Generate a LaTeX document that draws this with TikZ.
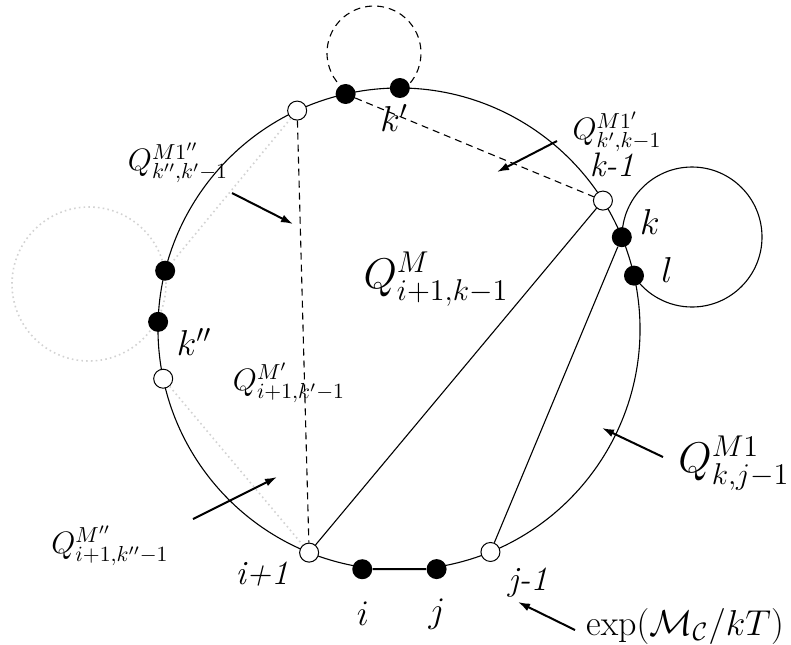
\RequirePackage{fix-cm}
\documentclass[tikz,border=0pt]{standalone}
\usepackage{amsmath}
\usetikzlibrary{arrows.meta,calc}
\begin{document}
\begin{tikzpicture}[x=0.5pt,y=0.5pt,
  opn/.style={circle,draw,fill=white,inner sep=0pt,minimum size=9.5pt,line width=0.5pt},
  fld/.style={circle,fill=black,inner sep=0pt,minimum size=10pt},
  ring/.style={line width=0.55pt},
  chord/.style={line width=0.55pt},
  dchord/.style={line width=0.55pt,dash pattern=on 3.5pt off 2.5pt},
  dotline/.style={gray!35,line width=0.8pt,dash pattern=on 0.8pt off 1.6pt},
  pointer/.style={line width=1pt,-{Latex[length=6pt,width=4pt]}},
  lbl/.style={font=\fontsize{15.5}{18}\selectfont,inner sep=0pt},
  vlbl/.style={font=\fontsize{18}{21}\selectfont,inner sep=0pt},
  biglbl/.style={font=\fontsize{21.5}{25}\selectfont,inner sep=0pt},
  tlbl/.style={font=\fontsize{17}{20}\selectfont\itshape,inner sep=0pt},
  ]
\useasboundingbox (0,0) rectangle (791,-644);
\def\R{120.5pt}
\coordinate (C) at (399,-329);
% loop centres
\coordinate (TC) at (374,-53);
\coordinate (RC) at (692,-237);
\coordinate (LC) at (89,-284);

% dotted grey loop
\draw[dotline] (LC) circle[radius=38.5pt];

% main ring
\draw[ring] (C) ++(-81.1:\R) arc[start angle=-81.1,end angle=261.3,radius=\R];
% dashed top loop
\draw[dchord] (TC) ++(-54:23.5pt) arc[start angle=-54,end angle=236,radius=23.5pt];
% right loop
\draw[ring] (RC) ++(180:35pt) arc[start angle=180,end angle=-146.4,radius=35pt];

% points on the ring
\path (C) ++(115:\R) coordinate (pA);
\path (C) ++(102.8:\R) coordinate (pKp1);
\path (C) ++(89.8:\R) coordinate (pKp);
\path (C) ++(32.2:\R) coordinate (pKm1);
\path (C) ++(22.4:\R) coordinate (pK);
\path (C) ++(12.8:\R) coordinate (pL);
\path (C) ++(-67.7:\R) coordinate (pJm1);
\path (C) ++(-81.1:121.5pt) coordinate (pJ);
\path (C) ++(261.3:121.5pt) coordinate (pI);
\path (C) ++(248.1:\R) coordinate (pIp1);
\path (C) ++(191.9:\R) coordinate (pB);
\path (C) ++(178.3:\R) coordinate (pKpp);
\path (C) ++(166:\R) coordinate (pKpp2);

\node[opn] (a) at (pA) {};
\node[fld] (kp1) at (pKp1) {};
\node[fld] (kp) at (pKp) {};
\node[opn] (km1) at (pKm1) {};
\node[fld] (k) at (pK) {};
\node[fld] (l) at (pL) {};
\node[opn] (jm1) at (pJm1) {};
\node[fld] (j) at (pJ) {};
\node[fld] (i) at (pI) {};
\node[opn] (ip1) at (pIp1) {};
\node[opn] (b) at (pB) {};
\node[fld] (kpp) at (pKpp) {};
\node[fld] (kpp2) at (pKpp2) {};

% chords
\draw[dotline] (a) -- (kpp2);
\draw[dotline] (b) -- (ip1);
\draw[dchord] (a) -- (ip1);
\draw[dchord] (kp1) -- (km1);
\draw[chord] (ip1) -- (km1);
\draw[chord] (jm1) -- (k);
\draw[line width=1pt] (i) -- (j);

% labels
\node[lbl] (q1) at (178,-163) {$Q^{M1''}_{k'',k'-1}$};
\node[lbl] (q2) at (289,-383) {$Q^{M'}_{i+1,k'-1}$};
\node[lbl] (q3) at (110,-546) {$Q^{M''}_{i+1,k''-1}$};
\node[lbl] (q4) at (617,-132) {$Q^{M1'}_{k',k-1}$};
\node[biglbl] (q5) at (436,-279) {$Q^{M}_{i+1,k-1}$};
\node[biglbl,anchor=west] (q6) at (678,-463) {$Q^{M1}_{k,j-1}$};
\node[vlbl] (ex) at (685,-626) {$\exp(\mathcal{M}_{\mathcal{C}}/kT)$};

\node[tlbl] (tkm1) at (612,-165) {k-1};
\node[tlbl,anchor=base] (tip1) at (262,-584) {i+1};
\node[tlbl,anchor=base] (tjm1) at (528,-590) {j-1};
\node[vlbl] (tk) at (650,-222) {$k$};
\node[vlbl] (tl) at (667,-270) {$l$};
\node[vlbl] (tkp) at (394,-118) {$k'$};
\node[vlbl] (tkpp) at (194,-342) {$k''$};
\node[vlbl] (ti) at (363,-614) {$i$};
\node[vlbl] (tj) at (437,-614) {$j$};

% pointers
\coordinate (a1s) at (232,-193); \coordinate (a1e) at (293,-224);
\coordinate (a2s) at (193,-519); \coordinate (a2e) at (277,-477);
\coordinate (a3s) at (557,-141); \coordinate (a3e) at (497,-172);
\coordinate (a4s) at (663,-457); \coordinate (a4e) at (602,-428);
\coordinate (a5s) at (575,-630); \coordinate (a5e) at (518,-602);
\draw[pointer] (a1s) -- (a1e);
\draw[pointer] (a2s) -- (a2e);
\draw[pointer] (a3s) -- (a3e);
\draw[pointer] (a4s) -- (a4e);
\draw[pointer] (a5s) -- (a5e);
\end{tikzpicture}
\end{document}
